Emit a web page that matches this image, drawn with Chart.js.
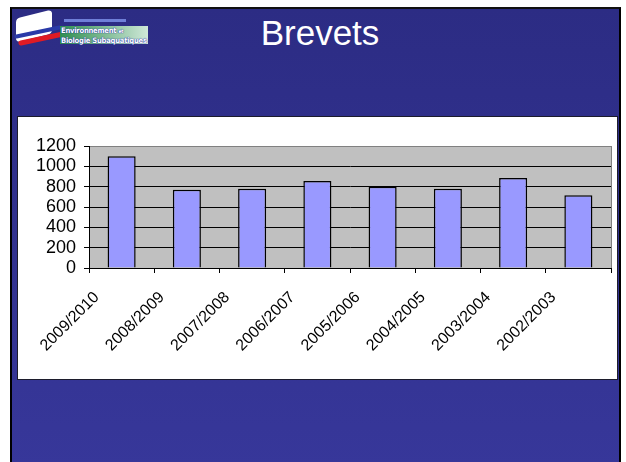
<!DOCTYPE html>
<html>
<head>
<meta charset="utf-8">
<script src="https://cdn.jsdelivr.net/npm/chart.js@4/dist/chart.umd.min.js"></script>
<style>
    body { margin: 0; width: 626px; height: 462px; overflow: hidden; position: relative; background: #fff; font-family: "Liberation Sans", Arial, sans-serif; }
    #slide { position: absolute; left: 10px; top: 7px; width: 607px; height: 460px; background: linear-gradient(#2c2c84, #37379a); border-left: 2px solid #000; border-right: 2px solid #000; border-top: 2px solid #111; }
    #title { position: absolute; left: 220px; top: 15px; width: 200px; text-align: center; color: #fff; font-size: 35px; line-height: 35px; }
    #box { position: absolute; left: 17px; top: 116px; width: 601px; height: 264px; box-sizing: border-box; background: #fff; border: 1px solid #1c1c2c; }
    #box canvas { position: absolute; left: 0; top: 0; }
    /* logo, roughly */
    #logo { position: absolute; left: 12px; top: 8px; width: 140px; height: 38px; }
    #logo .map { position: absolute; left: 4px; top: 6px; width: 36px; height: 24px; background: #fff; transform: skewY(-14deg); border-radius: 4px; }
    #logo .blue { position: absolute; left: 2px; top: 22px; width: 48px; height: 4px; background: #2a3aa8; transform: rotate(-12deg); border-radius: 2px; }
    #logo .red { position: absolute; left: 6px; top: 28px; width: 48px; height: 5px; background: #e01b24; transform: rotate(-12deg); border-radius: 3px; }
    #logo .banner { position: absolute; left: 48px; top: 18px; width: 88px; height: 18px; background: linear-gradient(90deg, #2f8f4f, #cfe8d8); }
    #logo .txt { position: absolute; left: 49px; top: 18px; color: #fff; font-family: "DejaVu Sans Condensed", "DejaVu Sans", sans-serif; font-size: 7.5px; font-weight: bold; line-height: 9px; white-space: nowrap; letter-spacing: -0.2px; text-shadow: 0 0 1px #1a2aa0, 0 0 1px #1a2aa0; }
    #logo .top { position: absolute; left: 52px; top: 11px; width: 62px; height: 3px; background: #6f7fd8; }
</style>
</head>
<body>
<div id="slide"></div>
<div id="logo">
    <div class="map"></div>
    <div class="blue"></div>
    <div class="red"></div>
    <div class="top"></div>
    <div class="banner"></div>
    <div class="txt">Environnement <span style="font-size:5px">et</span><br>Biologie Subaquatiques</div>
</div>
<div id="title">Brevets</div>
<div id="box"><canvas id="brevets" width="599" height="262"></canvas></div>
<script>
    var saisons = ['2009/2010', '2008/2009', '2007/2008', '2006/2007', '2005/2006', '2004/2005', '2003/2004', '2002/2003'];
    var brevets = [1100, 770, 780, 855, 800, 780, 885, 715];
    var yMax = 1200;
    var yStep = 200;

    // grey plot area like the excel chart
    var plotBg = {
        id: 'plotBg',
        beforeDraw: function(chart) {
            var a = chart.chartArea;
            var ctx = chart.ctx;
            ctx.save();
            ctx.fillStyle = '#c0c0c0';
            ctx.fillRect(a.left, a.top, a.right - a.left, a.bottom - a.top);
            ctx.strokeStyle = '#808080';
            ctx.lineWidth = 1;
            ctx.strokeRect(Math.round(a.left) + 0.5, Math.round(a.top) + 0.5, Math.round(a.right - a.left), Math.round(a.bottom - a.top));
            ctx.restore();
        }
    };

    var config = {
        type: 'bar',
        data: {
            labels: saisons,
            datasets: [{
                data: brevets,
                backgroundColor: '#9999ff',
                borderColor: '#000',
                borderWidth: 1.5,
                categoryPercentage: 1,
                barPercentage: 0.43
            }]
        },
        options: {
            responsive: false,
            animation: false,
            layout: { padding: { top: 29, right: 6, left: 0, bottom: 0 } },
            plugins: {
                legend: { display: false },
                tooltip: { enabled: false }
            },
            scales: {
                x: {
                    grid: { drawOnChartArea: false, color: '#000', tickLength: 5, offset: true },
                    border: { color: '#000', width: 1 },
                    ticks: {
                        color: '#000',
                        font: { family: 'Liberation Sans', size: 16 },
                        minRotation: 45,
                        maxRotation: 45,
                        padding: 15,
                        labelOffset: -25,
                        autoSkip: false
                    },
                    afterFit: function(scale) { scale.height = 111; }
                },
                y: {
                    min: 0,
                    max: yMax,
                    grid: {
                        color: function(c) { return c.tick && c.tick.value === yMax ? '#808080' : '#000'; },
                        tickColor: '#000',
                        tickLength: 5
                    },
                    border: { color: '#000', width: 1 },
                    ticks: {
                        stepSize: yStep,
                        autoSkip: false,
                        color: '#000',
                        padding: 8,
                        font: { family: 'Liberation Sans', size: 18 },
                        callback: function(v) { return String(v); }
                    },
                    afterFit: function(scale) { scale.width = 71; }
                }
            }
        },
        plugins: [plotBg]
    };

    new Chart(document.getElementById('brevets'), config);
</script>
</body>
</html>
